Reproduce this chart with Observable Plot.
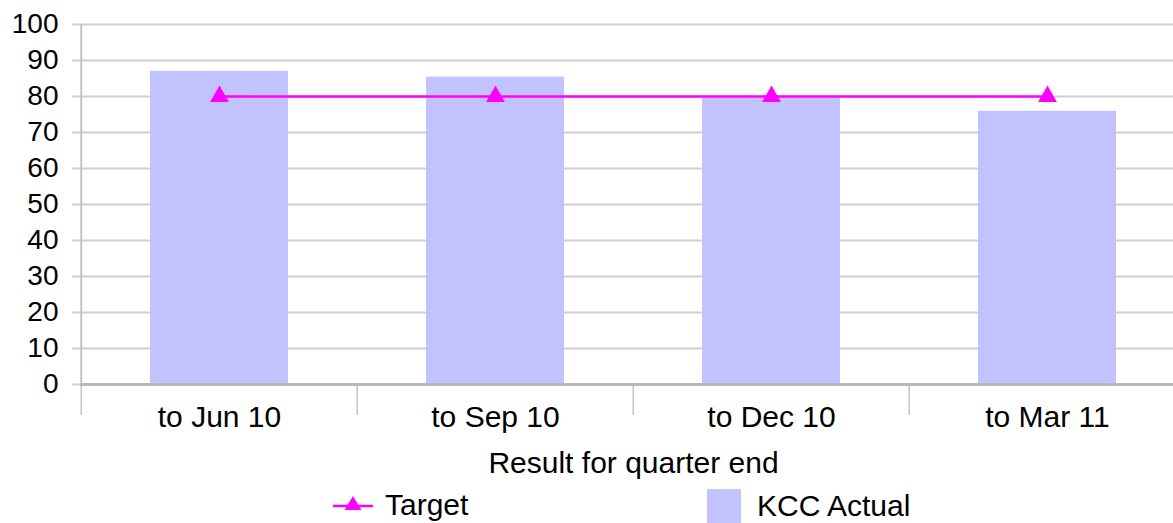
<!DOCTYPE html>
<html>
<head>
<meta charset="utf-8">
<script src="https://cdn.jsdelivr.net/npm/d3@7"></script>
<script src="https://cdn.jsdelivr.net/npm/@observablehq/plot@0.6"></script>
<style>
  html, body { margin: 0; padding: 0; background: #fff; overflow: hidden; }
  #wrap { position: relative; width: 1173px; height: 523px; overflow: hidden; font-family: "Liberation Sans", Arial, sans-serif; }
  #chart { position: absolute; left: 0; top: 0; width: 1200px; }
  #chart svg { max-width: none !important; }
  .leg { position: absolute; font-size: 30px; color: #000; line-height: 1; }
</style>
</head>
<body>
<div id="wrap">
  <div id="chart"></div>
  <div class="leg" style="left:330px; top:490px; display:flex; align-items:center;">
    <svg width="46" height="30" style="margin-right:9px"><line x1="3" x2="43" y1="16" y2="16" stroke="#ff00ff" stroke-width="2.5"/><path d="M23,6 L31.5,20 L14.5,20 Z" fill="#ff00ff"/></svg>
    <span>Target</span>
  </div>
  <div class="leg" style="left:707px; top:489px; display:flex; align-items:center;">
    <div style="width:34px;height:34px;background:#c2c2ff;margin-right:16px"></div>
    <span>KCC Actual</span>
  </div>
</div>
<script>
const categories = ["to Jun 10", "to Sep 10", "to Dec 10", "to Mar 11"];
const actual = [87.0, 85.4, 79.6, 75.9];
const target = [80, 80, 80, 80];
const yTicks = [0, 10, 20, 30, 40, 50, 60, 70, 80, 90, 100];
const xLabel = "Result for quarter end";

const rows = categories.map((c, i) => ({cat: c, actual: actual[i], target: target[i]}));

const W = 1190, ML = 80, MR = 4;
const step = (W - ML - MR) / categories.length;

const chart = Plot.plot({
  width: W,
  height: 480,
  marginLeft: ML,
  marginRight: MR,
  marginTop: 24,
  marginBottom: 96,
  style: {fontFamily: "'Liberation Sans', Arial, sans-serif", fontSize: "28px", color: "#000", background: "transparent", maxWidth: "none"},
  x: {domain: categories, paddingInner: 0.5, paddingOuter: 0.25},
  y: {domain: [0, 100]},
  marks: [
    Plot.gridY(yTicks, {stroke: "#cfcfcf", strokeOpacity: 1, strokeWidth: 2}),
    Plot.axisY(yTicks, {tickSize: 8, tickPadding: 14, stroke: "#cfcfcf", strokeWidth: 2, label: null, fill: "#000", fontSize: 28}),
    Plot.barY(rows, {x: "cat", y: "actual", fill: "#c2c2ff"}),
    Plot.ruleX([categories[0]], {dx: -step / 2, stroke: "#c4c4c4", strokeWidth: 2}),
    Plot.axisX({tickSize: 31, text: null, dx: -step / 2, stroke: "#c4c4c4", strokeWidth: 1.5, label: null}),
    Plot.axisX({tickSize: 0, tickPadding: 21, label: null, fill: "#000", fontSize: 30}),
    Plot.ruleY([0], {stroke: "#b8b8b8", strokeWidth: 3}),
    Plot.line(rows, {x: "cat", y: "target", stroke: "#ff00ff", strokeWidth: 2.5}),
    Plot.dot(rows, {x: "cat", y: "target", symbol: "triangle", r: 7, fill: "#ff00ff", stroke: "none"}),
    Plot.text([xLabel], {frameAnchor: "bottom", dy: 79, lineAnchor: "middle", text: d => d, fill: "#000", fontSize: 30})
  ]
});
document.getElementById("chart").appendChild(chart);
</script>
</body>
</html>
